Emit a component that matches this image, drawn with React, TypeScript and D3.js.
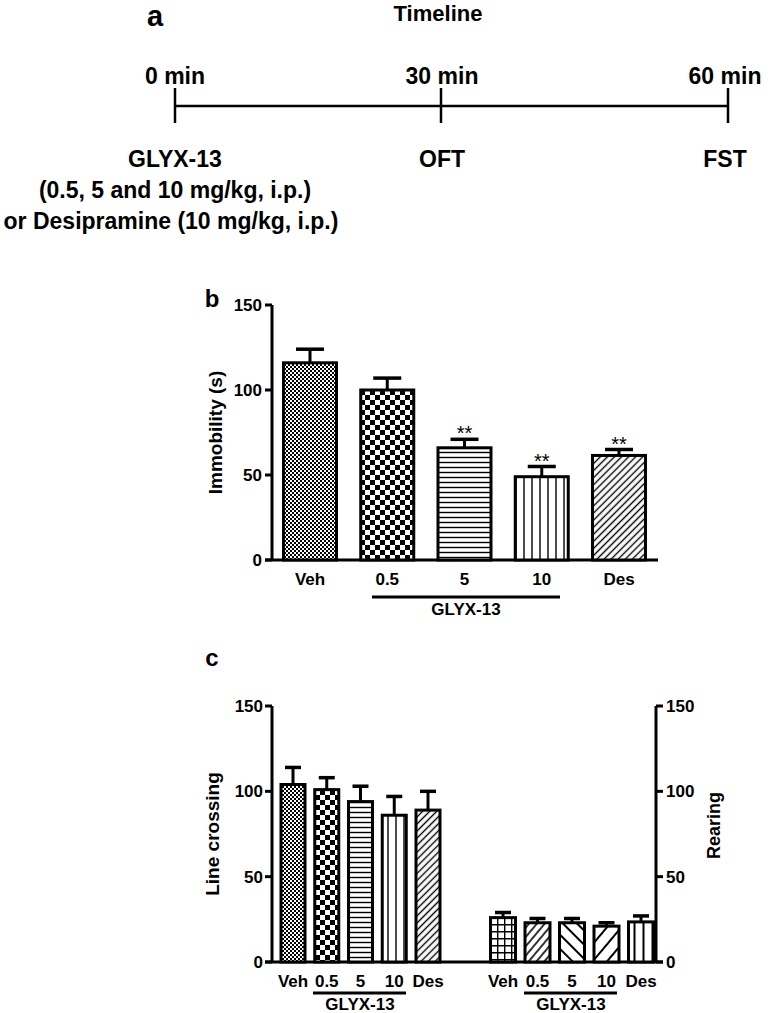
import React from "react";
import * as d3 from "d3";

const groups = ["Veh", "0.5", "5", "10", "Des"];
const immobility = [116, 100, 66, 49, 61.5];
const immobilityErr = [124, 107, 71, 55, 65];
const immobilityStars = ["", "", "**", "**", "**"];
const lineCrossing = [104, 101, 94, 86, 89];
const lineCrossingErr = [114, 108, 103, 97, 100];
const rearing = [26, 23, 23, 21, 23.5];
const rearingErr = [29, 25.5, 25.5, 23, 27];
const yTicks = [0, 50, 100, 150];
const timePoints = ["0 min", "30 min", "60 min"];
const timeEvents = ["GLYX-13", "OFT", "FST"];
const timeValues = [0, 30, 60];

const FONT = "'Liberation Sans', Arial, sans-serif";

function Patterns() {
  return (
    <defs>
      <pattern id="pFine" width="4" height="4" patternUnits="userSpaceOnUse">
        <rect width="4" height="4" fill="#fff" />
        <rect width="2" height="2" fill="#000" />
        <rect x="2" y="2" width="2" height="2" fill="#000" />
      </pattern>
      <pattern id="pChecker" width="10" height="10" patternUnits="userSpaceOnUse">
        <rect width="10" height="10" fill="#fff" />
        <rect width="5" height="5" fill="#000" />
        <rect x="5" y="5" width="5" height="5" fill="#000" />
      </pattern>
      <pattern id="pHoriz" width="8" height="5" patternUnits="userSpaceOnUse">
        <rect width="8" height="5" fill="#fff" />
        <line x1="0" y1="2.5" x2="8" y2="2.5" stroke="#000" strokeWidth="1.4" />
      </pattern>
      <pattern id="pVert" width="8" height="8" patternUnits="userSpaceOnUse">
        <rect width="8" height="8" fill="#fff" />
        <line x1="4" y1="0" x2="4" y2="8" stroke="#000" strokeWidth="1.4" />
      </pattern>
      <pattern id="pDiag" width="5" height="5" patternUnits="userSpaceOnUse" patternTransform="rotate(45)">
        <rect width="5" height="5" fill="#fff" />
        <line x1="2.5" y1="0" x2="2.5" y2="5" stroke="#000" strokeWidth="1.4" />
      </pattern>
      <pattern id="pGrid" width="7" height="7" patternUnits="userSpaceOnUse">
        <rect width="7" height="7" fill="#fff" />
        <path d="M0,0.7H7M0.7,0V7" stroke="#000" strokeWidth="1.4" />
      </pattern>
      <pattern id="pDiagA" width="6" height="6" patternUnits="userSpaceOnUse" patternTransform="rotate(40)">
        <rect width="6" height="6" fill="#fff" />
        <line x1="3" y1="0" x2="3" y2="6" stroke="#000" strokeWidth="1.6" />
      </pattern>
      <pattern id="pDiagB" width="10" height="10" patternUnits="userSpaceOnUse" patternTransform="rotate(-45)">
        <rect width="10" height="10" fill="#fff" />
        <line x1="5" y1="0" x2="5" y2="10" stroke="#000" strokeWidth="2" />
      </pattern>
      <pattern id="pDiagC" width="11" height="11" patternUnits="userSpaceOnUse" patternTransform="rotate(40)">
        <rect width="11" height="11" fill="#fff" />
        <line x1="5" y1="0" x2="5" y2="11" stroke="#000" strokeWidth="2" />
      </pattern>
      <pattern id="pVertWide" width="9" height="9" patternUnits="userSpaceOnUse">
        <rect width="9" height="9" fill="#fff" />
        <line x1="4.5" y1="0" x2="4.5" y2="9" stroke="#000" strokeWidth="2" />
      </pattern>
    </defs>
  );
}

const fillsMain = ["url(#pFine)", "url(#pChecker)", "url(#pHoriz)", "url(#pVert)", "url(#pDiag)"];
const fillsRear = ["url(#pGrid)", "url(#pDiagA)", "url(#pDiagB)", "url(#pDiagC)", "url(#pVertWide)"];

type BarsProps = {
  values: number[];
  errs: number[];
  x: d3.ScalePoint<string>;
  y: d3.ScaleLinear<number, number>;
  width: number;
  capWidth: number;
  fills: string[];
  stars?: string[];
};

function Bars({ values, errs, x, y, width, capWidth, fills, stars }: BarsProps) {
  return (
    <g>
      {groups.map((g, i) => {
        const cx = x(g) as number;
        return (
          <g key={g}>
            <line x1={cx} x2={cx} y1={y(values[i])} y2={y(errs[i])} stroke="#000" strokeWidth={3} />
            <line x1={cx - capWidth / 2} x2={cx + capWidth / 2} y1={y(errs[i])} y2={y(errs[i])} stroke="#000" strokeWidth={3.5} />
            <rect
              x={cx - width / 2}
              y={y(values[i])}
              width={width}
              height={y(0) - y(values[i])}
              fill={fills[i]}
              stroke="#000"
              strokeWidth={3}
            />
            {stars && stars[i] ? (
              <text x={cx} y={y(errs[i]) + 1} textAnchor="middle" fontSize={20} fontFamily={FONT}>
                {stars[i]}
              </text>
            ) : null}
          </g>
        );
      })}
    </g>
  );
}

export default function App() {
  // panel a: the timeline ticks in the figure are not evenly spaced
  const tx = d3.scaleLinear().domain(timeValues).range([175, 441, 728]);
  const lineY = 106;

  // panel b
  const yB = d3.scaleLinear().domain([0, 150]).range([560, 305]);
  const xB = d3.scalePoint<string>().domain(groups).range([310, 619]);

  // panel c
  const yC = d3.scaleLinear().domain([0, 150]).range([962, 706]);
  const xCL = d3.scalePoint<string>().domain(groups).range([293, 428]);
  const xCR = d3.scalePoint<string>().domain(groups).range([503, 641]);

  const bold = { fontFamily: FONT, fontWeight: 700 } as const;
  const shiftA = [0, 1, -3];

  return (
    <svg width={772} height={1013} style={{ position: "absolute", left: 0, top: 0, background: "#fff" }}>
      <Patterns />
      <rect width={772} height={1013} fill="#fff" />

      {/* panel a */}
      <text x={155} y={26} fontSize={29} textAnchor="middle" {...bold}>a</text>
      <text x={438} y={21} fontSize={22} textAnchor="middle" {...bold}>Timeline</text>
      <line x1={tx(0)} x2={tx(60)} y1={lineY} y2={lineY} stroke="#000" strokeWidth={2.5} />
      {timeValues.map((t, i) => (
        <g key={t}>
          <line x1={tx(t)} x2={tx(t)} y1={88} y2={123} stroke="#000" strokeWidth={2.5} />
          <text x={tx(t) + shiftA[i]} y={84} fontSize={23} textAnchor="middle" {...bold}>{timePoints[i]}</text>
          <text x={tx(t) + shiftA[i]} y={167} fontSize={23} textAnchor="middle" {...bold}>{timeEvents[i]}</text>
        </g>
      ))}
      <text x={175} y={198} fontSize={23} textAnchor="middle" {...bold}>(0.5, 5 and 10 mg/kg, i.p.)</text>
      <text x={171} y={229} fontSize={23} textAnchor="middle" {...bold}>or Desipramine (10 mg/kg, i.p.)</text>

      {/* panel b */}
      <text x={212} y={307} fontSize={24} textAnchor="middle" {...bold}>b</text>
      <line x1={272} x2={272} y1={yB(150)} y2={yB(0)} stroke="#000" strokeWidth={3} />
      <line x1={265} x2={658} y1={yB(0)} y2={yB(0)} stroke="#000" strokeWidth={3} />
      {yTicks.map((t) => (
        <g key={t}>
          <line x1={265} x2={272} y1={yB(t)} y2={yB(t)} stroke="#000" strokeWidth={3} />
          <text x={262} y={yB(t) + 6} fontSize={17} textAnchor="end" {...bold}>{t}</text>
        </g>
      ))}
      <text transform={`translate(222,${yB(75)}) rotate(-90)`} fontSize={19} textAnchor="middle" {...bold}>Immobility (s)</text>
      <Bars values={immobility} errs={immobilityErr} x={xB} y={yB} width={53} capWidth={28} fills={fillsMain} stars={immobilityStars} />
      {groups.map((g) => (
        <text key={g} x={xB(g)} y={585} fontSize={17} textAnchor="middle" {...bold}>{g}</text>
      ))}
      <line x1={372} x2={560} y1={597} y2={597} stroke="#000" strokeWidth={3} />
      <text x={466} y={615} fontSize={17} textAnchor="middle" {...bold}>GLYX-13</text>

      {/* panel c */}
      <text x={212} y={666} fontSize={24} textAnchor="middle" {...bold}>c</text>
      <line x1={272} x2={272} y1={yC(150)} y2={yC(0)} stroke="#000" strokeWidth={3} />
      <line x1={656} x2={656} y1={yC(150)} y2={yC(0)} stroke="#000" strokeWidth={3} />
      <line x1={265} x2={663} y1={yC(0)} y2={yC(0)} stroke="#000" strokeWidth={3} />
      {yTicks.map((t) => (
        <g key={t}>
          <line x1={265} x2={272} y1={yC(t)} y2={yC(t)} stroke="#000" strokeWidth={3} />
          <text x={263} y={yC(t) + 6} fontSize={17} textAnchor="end" {...bold}>{t}</text>
          <line x1={656} x2={663} y1={yC(t)} y2={yC(t)} stroke="#000" strokeWidth={3} />
          <text x={666} y={yC(t) + 6} fontSize={17} textAnchor="start" {...bold}>{t}</text>
        </g>
      ))}
      <text transform={`translate(219,${yC(75)}) rotate(-90)`} fontSize={19} textAnchor="middle" {...bold}>Line crossing</text>
      <text transform={`translate(720,${yC(80)}) rotate(-90)`} fontSize={18} textAnchor="middle" {...bold}>Rearing</text>
      <Bars values={lineCrossing} errs={lineCrossingErr} x={xCL} y={yC} width={24} capWidth={16} fills={fillsMain} />
      <Bars values={rearing} errs={rearingErr} x={xCR} y={yC} width={25} capWidth={16} fills={fillsRear} />
      {groups.map((g) => (
        <g key={g}>
          <text x={xCL(g)} y={987} fontSize={17} textAnchor="middle" {...bold}>{g}</text>
          <text x={xCR(g)} y={987} fontSize={17} textAnchor="middle" {...bold}>{g}</text>
        </g>
      ))}
      <line x1={313} x2={406} y1={993} y2={993} stroke="#000" strokeWidth={3} />
      <text x={360} y={1010} fontSize={17} textAnchor="middle" {...bold}>GLYX-13</text>
      <line x1={524} x2={617} y1={993} y2={993} stroke="#000" strokeWidth={3} />
      <text x={571} y={1010} fontSize={17} textAnchor="middle" {...bold}>GLYX-13</text>
    </svg>
  );
}
